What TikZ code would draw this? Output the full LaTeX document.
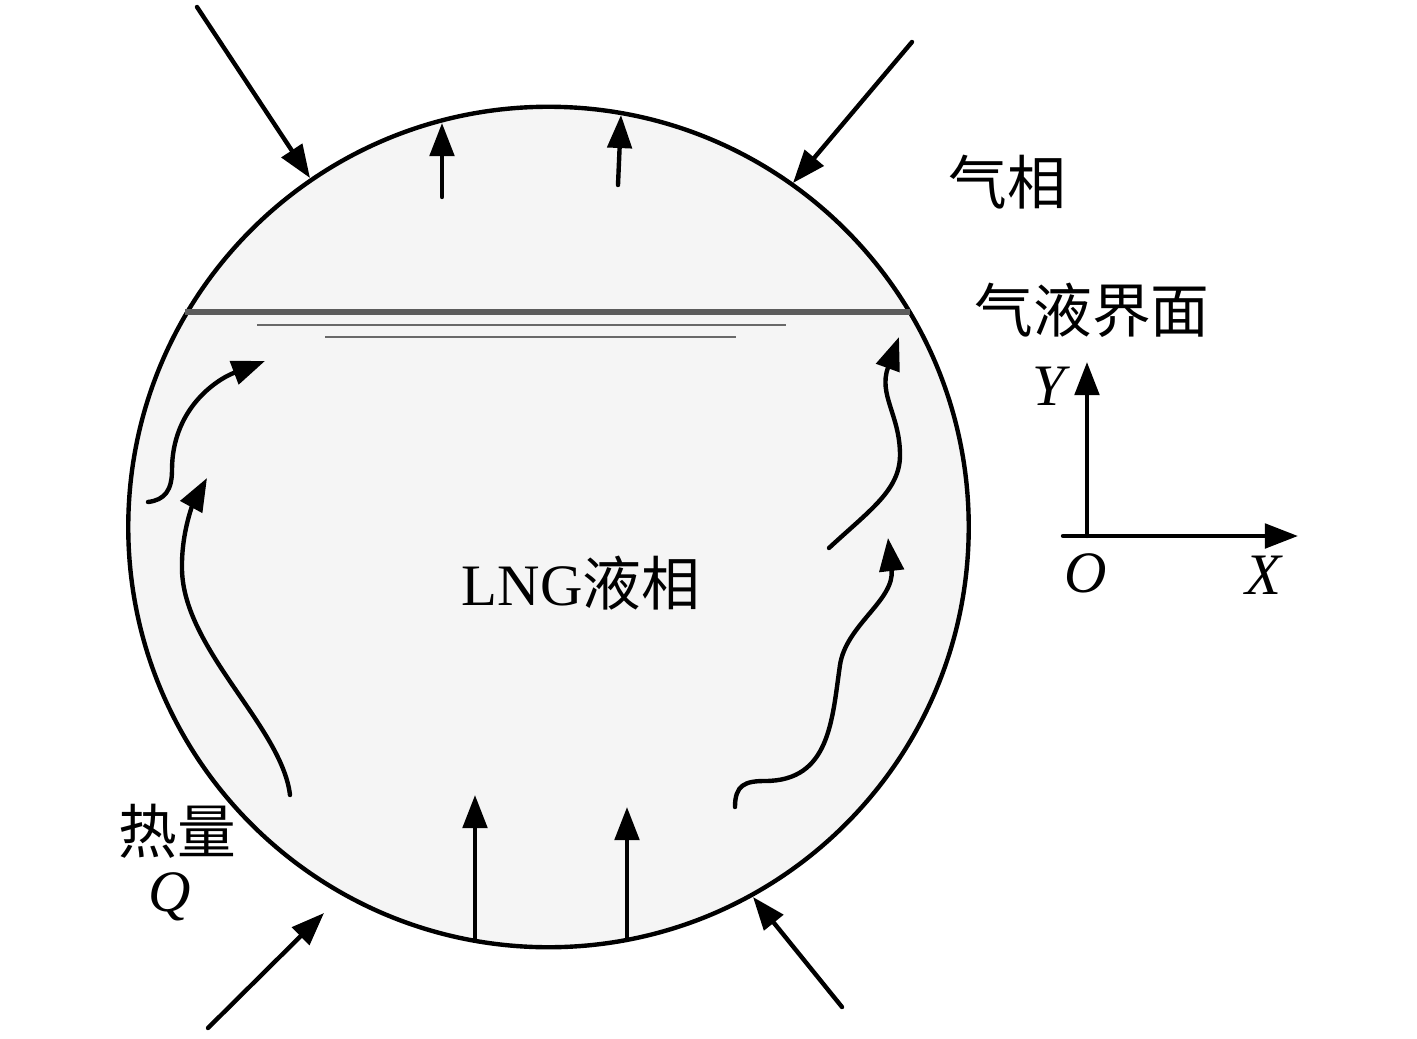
\documentclass[tikz,border=0pt]{standalone}
\usepackage{fontspec}
\setmainfont{Liberation Serif}
\newfontfamily\cjk{Noto Sans CJK SC}
\usetikzlibrary{arrows.meta}
\definecolor{tankfill}{RGB}{245,245,245}
\definecolor{ifgray}{RGB}{92,92,92}
\definecolor{thingray}{RGB}{105,105,105}
\begin{document}
\begin{tikzpicture}[x=0.01cm, y=-0.01cm,
  wall/.style={line width=1.25pt},
  flow/.style={line width=1.25pt, line cap=round, -{Triangle[length=9.4pt,width=6.9pt]}},
  lbl/.style={inner sep=0pt, anchor=base, font=\fontsize{16.7}{20}\selectfont},
  cjklbl/.style={inner sep=0pt, anchor=base, font=\cjk\fontsize{16.7}{20}\selectfont},
]
\useasboundingbox (0,0) rectangle (1417,1039);

% tank
\node[draw, circle, wall, fill=tankfill, minimum size=8.4cm, inner sep=0pt] (tank) at (548.5,527) {};

% interface and surface lines
\coordinate (ifL) at (185,312); \coordinate (ifR) at (910,312);
\draw[ifgray, line width=1.7pt] (ifL) -- (ifR);
\coordinate (s1L) at (257,325); \coordinate (s1R) at (786,325);
\coordinate (s2L) at (325,337); \coordinate (s2R) at (736,337);
\draw[thingray, line width=0.6pt] (s1L) -- (s1R);
\draw[thingray, line width=0.6pt] (s2L) -- (s2R);

% outer heat arrows
\coordinate (oa0) at (197,7);    \coordinate (oa1) at (310,178);
\coordinate (ob0) at (912,42);   \coordinate (ob1) at (793,183);
\coordinate (oc0) at (208,1028); \coordinate (oc1) at (324,913);
\coordinate (od0) at (842,1007); \coordinate (od1) at (753,897);
\draw[flow] (oa0) -- (oa1);
\draw[flow] (ob0) -- (ob1);
\draw[flow] (oc0) -- (oc1);
\draw[flow] (od0) -- (od1);

% inner straight arrows
\coordinate (ia0) at (442,197); \coordinate (ia1) at (442,123);
\coordinate (ib0) at (618,185); \coordinate (ib1) at (621,115);
\coordinate (ic0) at (475,940); \coordinate (ic1) at (475,795);
\coordinate (id0) at (627,938); \coordinate (id1) at (627,807);
\draw[flow] (ia0) -- (ia1);
\draw[flow] (ib0) -- (ib1);
\draw[flow] (ic0) -- (ic1);
\draw[flow] (id0) -- (id1);

% wavy convection arrows
\coordinate (l1s) at (290,795); \coordinate (l1m) at (182,570); \coordinate (l1e) at (207,478);
\draw[flow] (l1s) .. controls (282,727) and (184,650) .. (l1m)
               .. controls (181,530) and (195,500) .. (l1e);
\coordinate (l2s) at (148,502); \coordinate (l2m) at (172,470); \coordinate (l2e) at (265,361);
\draw[flow] (l2s) .. controls (165,500) and (172,490) .. (l2m)
               .. controls (172,410) and (215,380) .. (l2e);
\coordinate (r1s) at (829,548); \coordinate (r1m) at (900,455); \coordinate (r1e) at (899,337);
\draw[flow] (r1s) .. controls (870,510) and (900,490) .. (r1m)
               .. controls (900,415) and (878,395) .. (r1e);
\coordinate (r2s) at (735,807); \coordinate (r2a) at (765,781); \coordinate (r2b) at (840,665); \coordinate (r2e) at (888,538);
\draw[flow] (r2s) .. controls (735,785) and (745,781) .. (r2a)
               .. controls (830,781) and (832,720) .. (r2b)
               .. controls (846,625) and (895,600) .. (r2e);

% axes
\coordinate (ax0) at (1087,536); \coordinate (axY) at (1087,362);
\coordinate (axL) at (1063,536); \coordinate (axX) at (1298,536);
\draw[flow] (ax0) -- (axY);
\draw[flow] (axL) -- (axX);

% labels
\node[cjklbl] (gas) at (1007,204) {气相};
\node[cjklbl] (iface) at (1092,332) {气液界面};
\node[lbl] (liq) at (581,605) {LNG{\cjk 液相}};
\node[cjklbl] (heat) at (177,853) {热量};
\node[lbl] (q) at (170,911) {\textit{Q}};
\node[lbl] (ylab) at (1051,405) {\textit{Y}};
\node[lbl] (olab) at (1086,592) {\textit{O}};
\node[lbl] (xlab) at (1264,594) {\textit{X}};
\end{tikzpicture}
\end{document}
